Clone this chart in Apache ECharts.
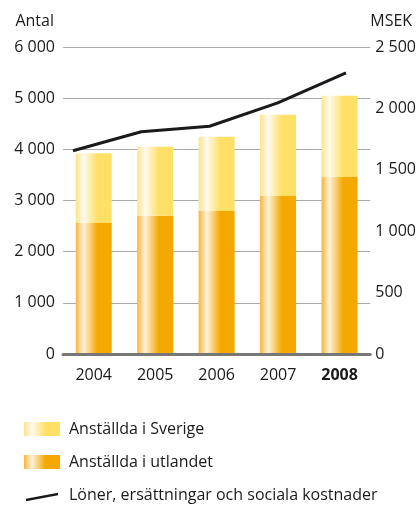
<!DOCTYPE html>
<html>
<head>
<meta charset="utf-8">
<script src="https://cdn.jsdelivr.net/npm/echarts@6/dist/echarts.min.js"></script>
<style>
html,body{margin:0;padding:0;background:#fff;}
#c{width:419px;height:505px;}
</style>
</head>
<body>
<div id="c"></div>
<script>
var years = ['2004', '2005', '2006', '2007', '2008'];
var anstalldaUtlandet = [2560, 2700, 2795, 3090, 3460];
var anstalldaSverige = [1365, 1350, 1450, 1585, 1585];
var loner = [1655, 1810, 1855, 2045, 2290];
var leftTicks = {min: 0, max: 6000, interval: 1000};
var rightTicks = {min: 0, max: 2500, interval: 500};

var FONT = 'Open Sans';
var FS = 16;
function fmt(v) {
  if (v < 1000) return String(v);
  var s = String(v);
  return s.slice(0, s.length - 3) + ' ' + s.slice(s.length - 3);
}
function grad(edge, light, full) {
  return new echarts.graphic.LinearGradient(0, 0, 1, 0, [
    {offset: 0, color: edge},
    {offset: 0.22, color: light},
    {offset: 0.6, color: full},
    {offset: 1, color: full}
  ]);
}
var colSverige = grad('#fde38a', '#fffaf0', '#ffe066');
var colUtland = grad('#f8b53a', '#fff2dc', '#f5a800');
var lineIcon = 'path://M0,0 L0.1,0 L0.1,0.1 Z M36,14 L35.9,14 L35.9,13.9 Z M2,10.7 L34,4.7 L34,7.3 L2,13.3 Z';

var chart = echarts.init(document.getElementById('c'), null, {renderer: 'canvas'});
chart.setOption({
  animation: false,
  backgroundColor: '#fff',
  textStyle: {fontFamily: FONT},
  grid: [
    {left: 63, right: 46, top: 47, bottom: 151},
    {left: 73, right: 73, top: 47, bottom: 151}
  ],
  legend: {
    orient: 'vertical',
    left: 24,
    top: 421,
    height: 120,
    padding: 0,
    itemWidth: 36,
    itemHeight: 14,
    itemGap: 17,
    textStyle: {fontFamily: FONT, fontSize: FS, lineHeight: 16, color: '#1a1a1a', padding: [0, 0, 0, 4]},
    data: [
      {name: 'Anställda i Sverige', icon: 'rect'},
      {name: 'Anställda i utlandet', icon: 'rect'},
      {name: 'Löner, ersättningar och sociala kostnader', icon: lineIcon}
    ]
  },
  xAxis: [
    {
      type: 'category', gridIndex: 0, data: years, z: 5,
      axisLine: {lineStyle: {color: '#777', width: 3}},
      axisTick: {show: false},
      axisLabel: {
        interval: 0, margin: 13, fontSize: FS, color: '#1a1a1a', fontFamily: FONT,
        formatter: function (v) { return v === '2008' ? '{b|' + v + '}' : v; },
        rich: {b: {fontWeight: 'bold', fontSize: FS, fontFamily: FONT, color: '#1a1a1a'}}
      }
    },
    {
      type: 'category', gridIndex: 1, data: years, boundaryGap: false, show: false
    }
  ],
  yAxis: [
    {
      type: 'value', gridIndex: 0, position: 'left',
      min: leftTicks.min, max: leftTicks.max, interval: leftTicks.interval,
      name: 'Antal', nameLocation: 'end', nameGap: 18,
      nameTextStyle: {fontSize: FS, color: '#1a1a1a', fontFamily: FONT, align: 'right', padding: [0, 9, 0, 0]},
      axisLine: {show: false}, axisTick: {show: false},
      axisLabel: {margin: 8, fontSize: FS, color: '#1a1a1a', fontFamily: FONT, formatter: fmt},
      splitLine: {lineStyle: {color: '#aaaaaa', width: 1}}
    },
    {
      type: 'value', gridIndex: 0, position: 'right',
      min: rightTicks.min, max: rightTicks.max, interval: rightTicks.interval,
      name: 'MSEK', nameLocation: 'end', nameGap: 18,
      nameTextStyle: {fontSize: FS, color: '#1a1a1a', fontFamily: FONT, align: 'left', padding: [0, 0, 0, 0]},
      axisLine: {show: false}, axisTick: {show: false},
      axisLabel: {margin: 5, fontSize: FS, color: '#1a1a1a', fontFamily: FONT, formatter: fmt},
      splitLine: {show: false}
    },
    {
      type: 'value', gridIndex: 1, show: false,
      min: rightTicks.min, max: rightTicks.max
    }
  ],
  series: [
    {
      name: 'Anställda i utlandet', type: 'bar', stack: 'a',
      xAxisIndex: 0, yAxisIndex: 0, barWidth: 36,
      itemStyle: {color: colUtland},
      data: anstalldaUtlandet
    },
    {
      name: 'Anställda i Sverige', type: 'bar', stack: 'a',
      xAxisIndex: 0, yAxisIndex: 0, barWidth: 36,
      itemStyle: {color: colSverige},
      data: anstalldaSverige
    },
    {
      name: 'Löner, ersättningar och sociala kostnader', type: 'line',
      xAxisIndex: 1, yAxisIndex: 2, z: 6,
      symbol: 'none',
      lineStyle: {color: '#1a1a1a', width: 3},
      itemStyle: {color: '#1a1a1a'},
      data: loner
    }
  ]
});
</script>
</body>
</html>
